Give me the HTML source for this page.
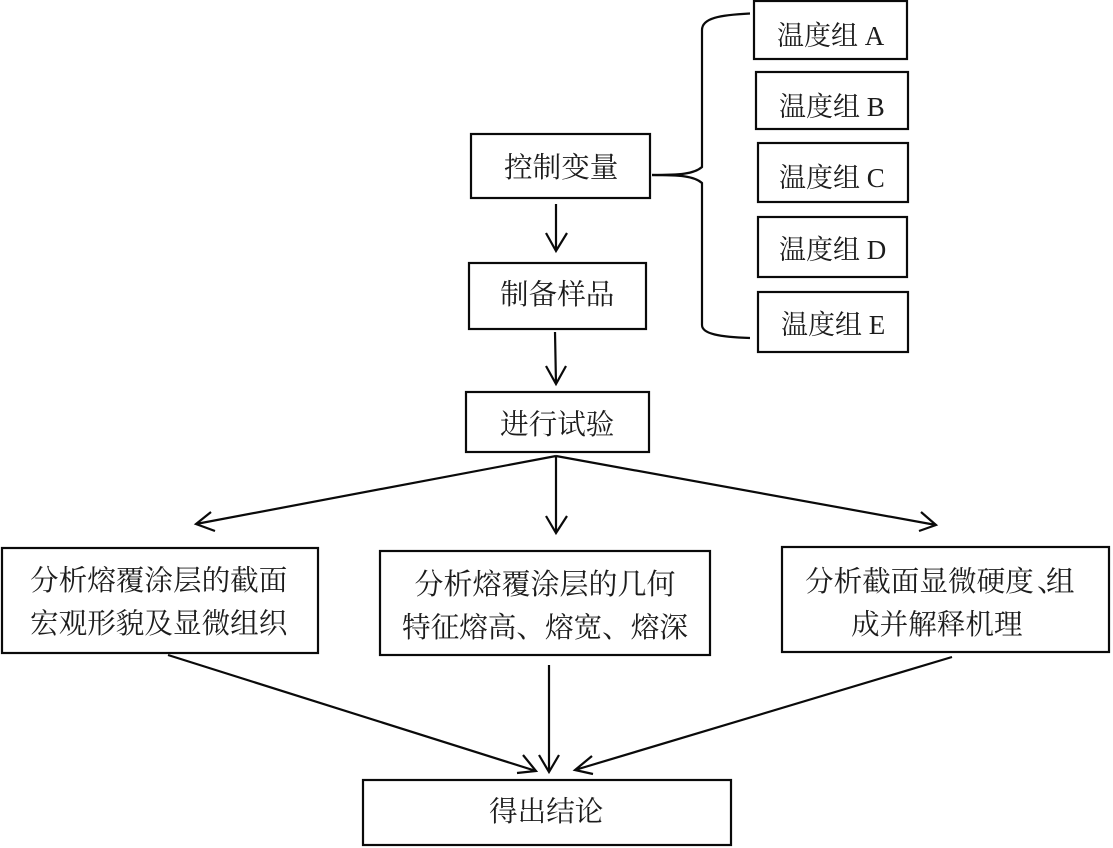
<!DOCTYPE html>
<html><head><meta charset="utf-8">
<style>
html,body{margin:0;padding:0;background:#fff;}
svg{display:block;filter:blur(0.3px);}
text{font-family:"Liberation Serif","Noto Serif CJK SC",serif;fill:#1c1c1c;font-size:28.6px;}
.t{font-size:27px;}
.b{fill:#fff;stroke:#0a0a0a;stroke-width:2.2;}
.l{fill:none;stroke:#0a0a0a;stroke-width:2.2;}
</style></head><body>
<svg width="1113" height="848" viewBox="0 0 1113 848">
<rect class="b" x="754" y="1" width="153" height="58"/>
<rect class="b" x="756" y="72" width="152" height="57"/>
<rect class="b" x="758" y="143" width="150" height="59"/>
<rect class="b" x="758" y="217" width="149" height="60"/>
<rect class="b" x="758" y="292" width="150" height="60"/>
<rect class="b" x="471" y="134" width="179" height="64"/>
<rect class="b" x="469" y="263" width="177" height="66"/>
<rect class="b" x="466" y="392" width="183" height="60"/>
<rect class="b" x="2" y="548" width="316" height="105"/>
<rect class="b" x="380" y="551" width="330" height="104"/>
<rect class="b" x="782" y="547" width="327" height="105"/>
<rect class="b" x="363" y="780" width="368" height="65"/>
<path class="l" d="M652 175 C680 175 694 174 702 167 L702 30 C702 18 720 15 750 13.500"/>
<path class="l" d="M652 175 C680 175 694 176 702 183 L702 325 C702 334 720 337 750 338"/>
<path class="l" d="M556 204 L556 251 M546 233 L556 251 L567 233"/>
<path class="l" d="M555 332 L556 384 M546 366 L556 384 L566 366"/>
<path class="l" d="M556 456 L196 524 M211 512 L196 524 L215 531"/>
<path class="l" d="M556 456 L556 533 M546 516 L556 533 L567 516"/>
<path class="l" d="M556 456 L936 525 M921 512 L936 525 L919 531"/>
<path class="l" d="M168 655 L536 771 M523 755 L536 771 L517 773"/>
<path class="l" d="M549 665 L549 772 M539 755 L549 772 L559 755"/>
<path class="l" d="M952 657 L575 770 M592 756 L575 770 L593 774"/>
<text class="t" x="777" y="45">温度组 A</text>
<text class="t" x="779" y="116">温度组 B</text>
<text class="t" x="779" y="187">温度组 C</text>
<text class="t" x="779" y="259">温度组 D</text>
<text class="t" x="781" y="334">温度组 E</text>
<text x="504" y="177">控制变量</text>
<text x="500" y="304">制备样品</text>
<text x="500" y="434">进行试验</text>
<text x="30" y="590">分析熔覆涂层的截面</text>
<text x="30" y="633">宏观形貌及显微组织</text>
<text x="414.500" y="594" style="font-size:29px">分析熔覆涂层的几何</text>
<text x="402" y="637">特征熔高、熔宽、熔深</text>
<text x="805" y="591">分析截面显微硬度<tspan x="1037">、</tspan><tspan x="1046">组</tspan></text>
<text x="851" y="634">成并解释机理</text>
<text x="489" y="821">得出结论</text>
</svg>
</body></html>
